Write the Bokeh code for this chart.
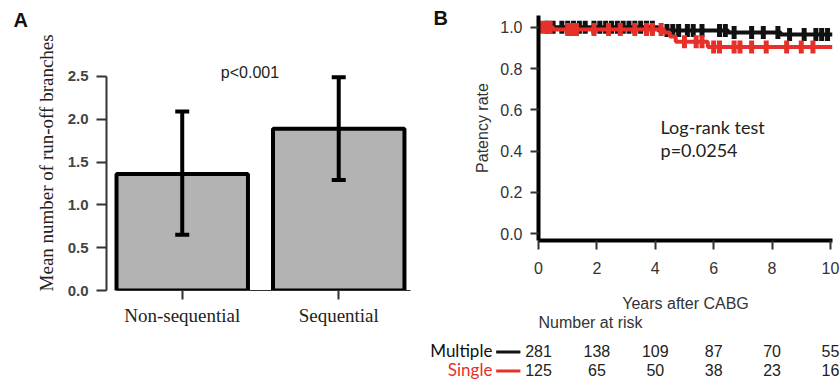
import numpy as np
from bokeh.plotting import figure
from bokeh.layouts import row, column
from bokeh.models import (Range1d, FixedTicker, ColumnDataSource, Whisker, TeeHead,
                          NumeralTickFormatter)
from bokeh.core.properties import value
from bokeh.embed import file_html
from bokeh.resources import INLINE

# ---------------- data ----------------
categories = ["Non-sequential", "Sequential"]
means = [1.36, 1.89]
err_low = [0.65, 1.29]
err_high = [2.09, 2.49]
p_text_a = "p<0.001"

times_multiple = [0.0, 4.1, 6.5, 8.3, 10.07]
surv_multiple = [1.0, 0.985, 0.975, 0.965, 0.965]
times_single = [0.0, 0.5, 4.3, 4.5, 4.7, 5.8, 10.07]
surv_single = [1.0, 0.99, 0.975, 0.955, 0.93, 0.905, 0.905]

censor_multiple = [0.3, 0.5, 0.8, 1.0, 1.2, 1.4, 1.6, 1.9, 2.1, 2.3, 2.5, 2.7, 2.9, 3.1,
                   3.3, 3.5, 3.7, 3.9, 4.4, 4.6, 4.8, 5.1, 5.3, 5.6, 6.2, 6.4, 6.7,
                   7.3, 7.7, 8.2, 8.6, 9.1, 9.5, 9.7, 9.9]
censor_single = [0.1, 0.25, 0.4, 1.0, 1.15, 1.3, 1.9, 2.4, 2.8, 3.3, 3.7, 3.9, 4.2,
                 5.0, 5.4, 5.6, 6.0, 6.2, 6.7, 6.9, 7.3, 7.8, 8.5, 9.0, 9.4]

risk_times = [0, 2, 4, 6, 8, 10]
risk_multiple = [281, 138, 109, 87, 70, 55]
risk_single = [125, 65, 50, 38, 23, 16]
groups = ["Multiple", "Single"]

AX = "#333333"
RED = "#e8302a"
BLK = "#111111"
SANS = "Liberation Sans"
SERIF = "Liberation Serif"
CAL = "Lato"


def bare(p):
    p.outline_line_color = None
    p.xgrid.visible = False
    p.ygrid.visible = False
    p.xaxis.visible = False
    p.yaxis.visible = False
    return p


# ---------------- letter "A" strip ----------------
pAL = figure(width=32, height=381, output_backend="svg", toolbar_location=None,
             x_range=Range1d(0, 32), y_range=Range1d(381, 0),
             min_border_left=0, min_border_right=0, min_border_top=0, min_border_bottom=0)
bare(pAL)
pAL.text(x=[13], y=[19], text=["A"], text_font=value(SANS), text_font_size="20px",
         text_font_style="bold", text_baseline="middle", text_color="#111111")

# ---------------- panel A ----------------
xa = [0.5, 1.5]
pA = figure(width=388, height=381, output_backend="svg", toolbar_location=None,
            x_range=Range1d(0.016, 1.9906), y_range=Range1d(0, 3.037),
            min_border_left=73, min_border_right=5, min_border_top=30, min_border_bottom=91)
pA.outline_line_color = None
pA.xgrid.visible = False
pA.ygrid.visible = False

srcA = ColumnDataSource(dict(x=xa, top=means, lo=err_low, hi=err_high))
pA.vbar(x="x", top="top", bottom=0, width=0.84, source=srcA,
        fill_color="#b3b3b3", line_color="black", line_width=4)
wh = Whisker(base="x", upper="hi", lower="lo", source=srcA, line_color="black", line_width=4,
             upper_head=TeeHead(size=14, line_width=4, line_color="black"),
             lower_head=TeeHead(size=14, line_width=4, line_color="black"), level="overlay")
pA.add_layout(wh)

ya = pA.yaxis[0]
ya.ticker = FixedTicker(ticks=[0, 0.5, 1.0, 1.5, 2.0, 2.5])
ya.formatter = NumeralTickFormatter(format="0.0")
ya.bounds = (0, 2.5)
ya.axis_line_width = 2
ya.axis_line_color = AX
ya.major_tick_out = 10
ya.major_tick_in = 0
ya.major_tick_line_width = 2
ya.major_tick_line_color = AX
ya.minor_tick_line_color = None
ya.major_label_text_font = SANS
ya.major_label_text_font_size = "15px"
ya.major_label_text_font_style = "bold"
ya.major_label_text_color = "#444444"
ya.major_label_standoff = 8
ya.axis_label = "Mean number of  run-off branches"
ya.axis_label_text_font = SERIF
ya.axis_label_text_font_size = "19px"
ya.axis_label_text_font_style = "normal"
ya.axis_label_text_color = "#222222"
ya.axis_label_standoff = 8

xa_ax = pA.xaxis[0]
xa_ax.ticker = FixedTicker(ticks=xa)
xa_ax.major_label_overrides = {xa[i]: categories[i] for i in range(2)}
xa_ax.bounds = (0.08, 1.96)
xa_ax.axis_line_width = 1
xa_ax.axis_line_color = AX
xa_ax.major_tick_out = 9
xa_ax.major_tick_in = 0
xa_ax.major_tick_line_width = 2
xa_ax.major_tick_line_color = AX
xa_ax.minor_tick_line_color = None
xa_ax.major_label_text_font = SERIF
xa_ax.major_label_text_font_size = "19px"
xa_ax.major_label_text_color = "#222222"
xa_ax.major_label_standoff = 5

pA.text(x=[0.933], y=[2.547], text=[p_text_a], text_font=value(SANS), text_font_size="16px",
        text_align="center", text_baseline="middle", text_color="#222222")

# ---------------- letter "B" strip ----------------
pBL = figure(width=35, height=314, output_backend="svg", toolbar_location=None,
             x_range=Range1d(420, 455), y_range=Range1d(314, 0),
             min_border_left=0, min_border_right=0, min_border_top=0, min_border_bottom=0)
bare(pBL)
pBL.text(x=[433], y=[17], text=["B"], text_font=value(SANS), text_font_size="20px",
         text_font_style="bold", text_baseline="middle", text_color="#111111")

# ---------------- panel B ----------------
pB = figure(width=385, height=314, output_backend="svg", toolbar_location=None,
            x_range=Range1d(0, 10.07), y_range=Range1d(-0.0335, 1.0574),
            min_border_left=83, min_border_right=8, min_border_top=15, min_border_bottom=71)
pB.outline_line_color = None
pB.xgrid.visible = False
pB.ygrid.visible = False


def censor_vals(ct, tt, ss):
    idx = np.searchsorted(np.array(tt), np.array(ct), side="right") - 1
    return list(np.array(ss)[idx])


pB.step(times_multiple, surv_multiple, mode="after", line_color=BLK, line_width=4)
pB.scatter(censor_multiple, censor_vals(censor_multiple, times_multiple, surv_multiple),
           marker="dash", angle=np.pi / 2, size=13, line_width=5, line_color=BLK)
pB.step(times_single, surv_single, mode="after", line_color=RED, line_width=4)
pB.scatter(censor_single, censor_vals(censor_single, times_single, surv_single),
           marker="dash", angle=np.pi / 2, size=13, line_width=5, line_color=RED)

yb = pB.yaxis[0]
yb.ticker = FixedTicker(ticks=[0, 0.2, 0.4, 0.6, 0.8, 1.0])
yb.formatter = NumeralTickFormatter(format="0.0")
yb.axis_line_width = 4
yb.axis_line_color = "black"
yb.major_tick_out = 8
yb.major_tick_in = 0
yb.major_tick_line_width = 2
yb.major_tick_line_color = AX
yb.minor_tick_line_color = None
yb.major_label_text_font = SANS
yb.major_label_text_font_size = "16px"
yb.major_label_text_color = "#333333"
yb.major_label_standoff = 8
yb.axis_label = "Patency rate"
yb.axis_label_text_font = SANS
yb.axis_label_text_font_size = "16px"
yb.axis_label_text_font_style = "normal"
yb.axis_label_text_color = "#333333"
yb.axis_label_standoff = 6

xb = pB.xaxis[0]
xb.ticker = FixedTicker(ticks=risk_times)
xb.axis_line_width = 4
xb.axis_line_color = "black"
xb.major_tick_out = 9
xb.major_tick_in = 0
xb.major_tick_line_width = 2
xb.major_tick_line_color = AX
xb.minor_tick_line_color = None
xb.major_label_text_font = SANS
xb.major_label_text_font_size = "16px"
xb.major_label_text_color = "#333333"
xb.major_label_standoff = 12
xb.axis_label = "Years after CABG"
xb.axis_label_text_font = SANS
xb.axis_label_text_font_size = "16px"
xb.axis_label_text_font_style = "normal"
xb.axis_label_text_color = "#333333"
xb.axis_label_standoff = 18

pB.text(x=[4.18, 4.18], y=[0.517, 0.407], text=["Log-rank test", "p=0.0254"],
        text_font=value(CAL), text_font_size="18px", text_baseline="middle",
        text_color="#222222")

# ---------------- risk table ----------------
pRisk = figure(width=420, height=67, output_backend="svg", toolbar_location=None,
               x_range=Range1d(-4.0416, 10.344), y_range=Range1d(381, 314),
               min_border_left=0, min_border_right=0, min_border_top=0, min_border_bottom=0)
bare(pRisk)
pRisk.text(x=[0.0], y=[322], text=["Number at risk"], text_font=value(SANS),
           text_font_size="16px", text_baseline="middle", text_color="#333333")
row_y = [350, 369]
row_colors = [BLK, RED]
row_counts = [risk_multiple, risk_single]
for gi in range(2):
    pRisk.text(x=risk_times, y=[row_y[gi]] * len(risk_times),
               text=[str(v) for v in row_counts[gi]], text_font=value(SANS),
               text_font_size="16px", text_align="center", text_baseline="middle",
               text_color="#222222")
    pRisk.text(x=[-1.58], y=[row_y[gi]], text=[groups[gi]], text_font=value(CAL),
               text_font_size="17px", text_align="right", text_baseline="middle",
               text_color=row_colors[gi])
    pRisk.segment(x0=[-1.45], y0=[row_y[gi] + 1.5], x1=[-0.62], y1=[row_y[gi] + 1.5],
                  line_color=row_colors[gi], line_width=3)

right_side = column(row(column(pBL), pB), pRisk)
layout = row(column(pAL), pA, right_side)
open("out.html", "w").write(file_html(layout, INLINE))
